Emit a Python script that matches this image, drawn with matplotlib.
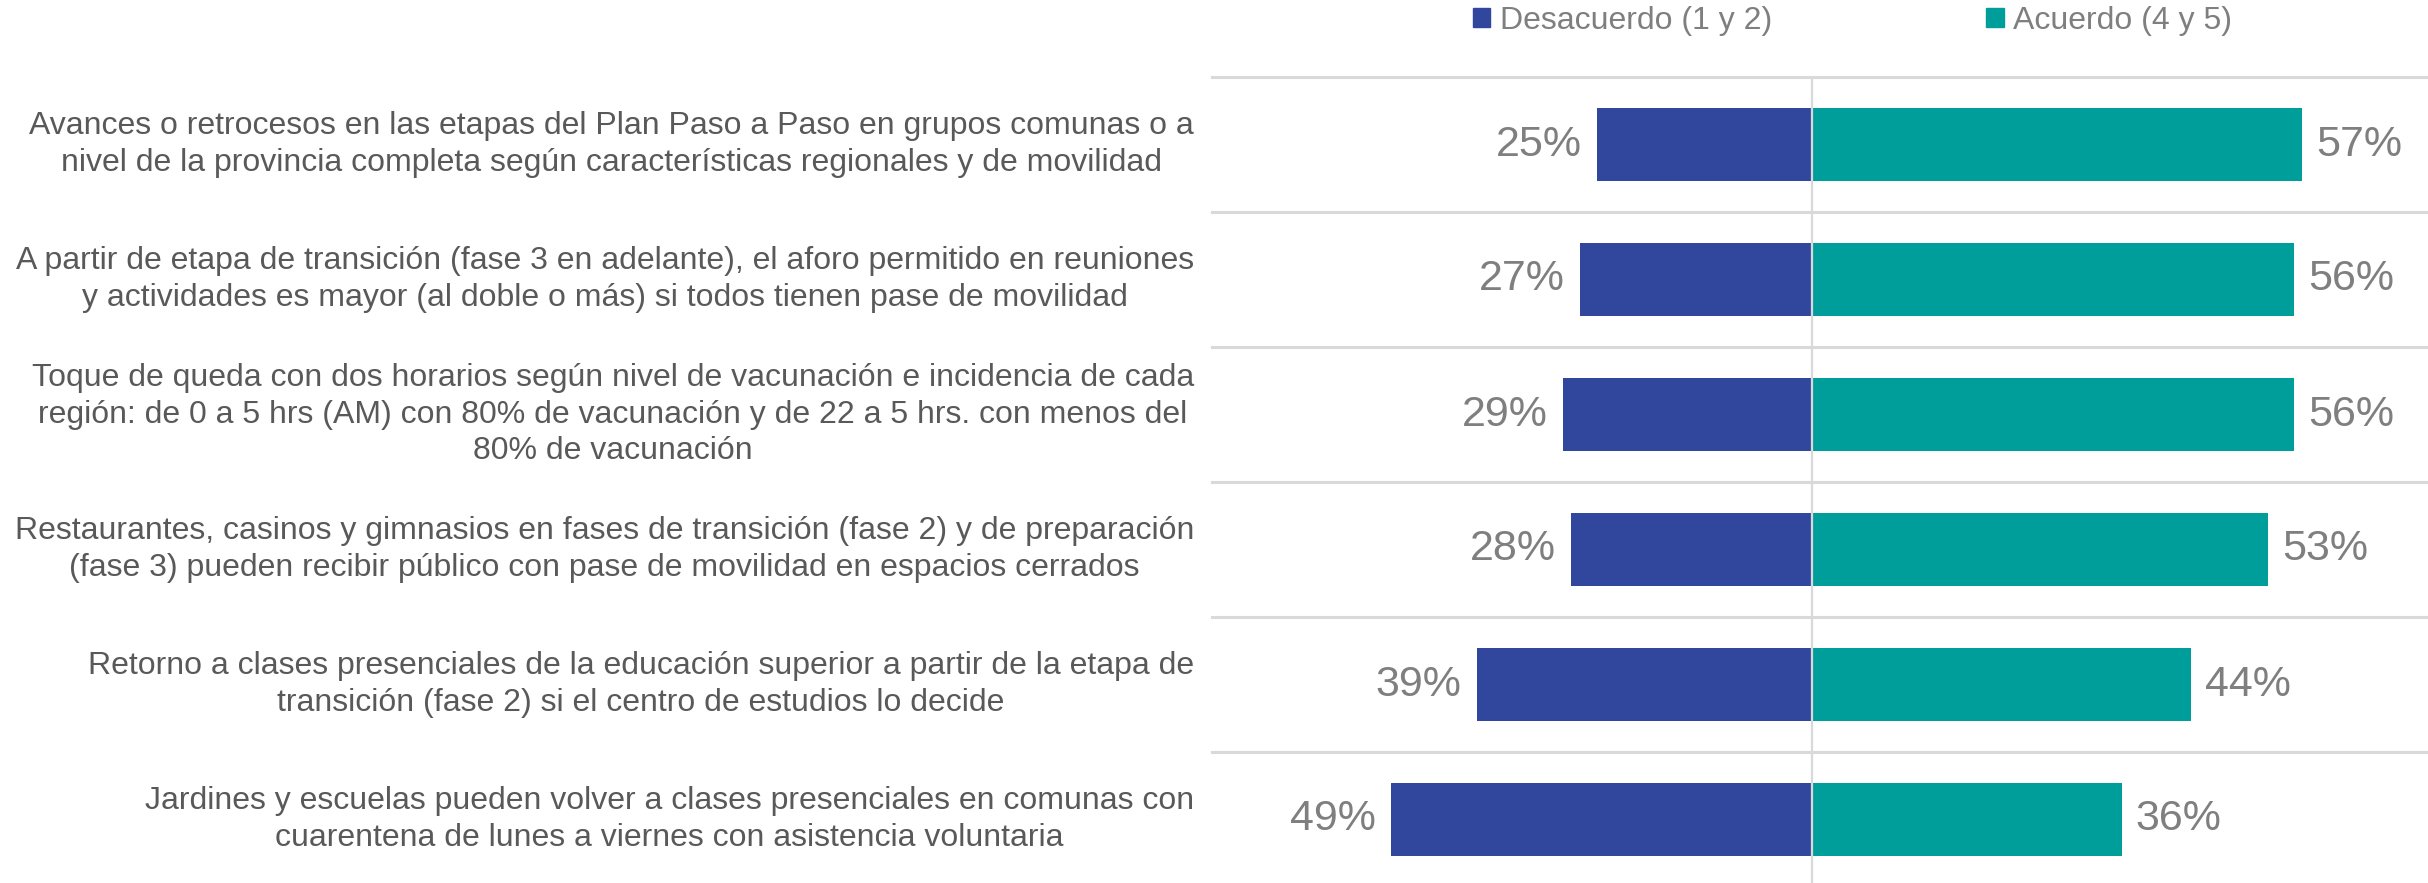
import numpy as np
import matplotlib
matplotlib.use("Agg")
import matplotlib.pyplot as plt
import matplotlib.transforms as mtransforms
from matplotlib.patches import Patch

plt.rcParams['font.family'] = ['Liberation Sans', 'DejaVu Sans']

# data
categorias = [
    "Avances o retrocesos en las etapas del Plan Paso a Paso en grupos comunas o a\n"
    "nivel de la provincia completa según características regionales y de movilidad",
    "A partir de etapa de transición (fase 3 en adelante), el aforo permitido en reuniones\n"
    "y actividades es mayor (al doble o más) si todos tienen pase de movilidad",
    "Toque de queda con dos horarios según nivel de vacunación e incidencia de cada\n"
    "región: de 0 a 5 hrs (AM) con 80% de vacunación y de 22 a 5 hrs. con menos del\n"
    "80% de vacunación",
    "Restaurantes, casinos y gimnasios en fases de transición (fase 2) y de preparación\n"
    "(fase 3) pueden recibir público con pase de movilidad en espacios cerrados",
    "Retorno a clases presenciales de la educación superior a partir de la etapa de\n"
    "transición (fase 2) si el centro de estudios lo decide",
    "Jardines y escuelas pueden volver a clases presenciales en comunas con\n"
    "cuarentena de lunes a viernes con asistencia voluntaria",
]
desacuerdo = [25, 27, 29, 28, 39, 49]
acuerdo = [57, 56, 56, 53, 44, 36]
series_labels = ["Desacuerdo (1 y 2)", "Acuerdo (4 y 5)"]

BLUE = '#31479d'
TEAL = '#009e9a'
GRID = '#d9d9d9'
LABEL_GREY = '#595959'
VALUE_GREY = '#7f7f7f'

W, H = 2428, 883
fig = plt.figure(figsize=(W / 100, H / 100), dpi=100)
ax = fig.add_axes([1212 / W, -4 / H, 1216 / W, 810 / H])

y = np.arange(len(categorias))
neg = ax.barh(y, [-v for v in desacuerdo], height=0.535, color=BLUE, zorder=2)
pos = ax.barh(y, acuerdo, height=0.535, color=TEAL, zorder=2)

ax.bar_label(neg, labels=[f"{v}%" for v in desacuerdo], padding=11,
             fontsize=31, color=VALUE_GREY)
ax.bar_label(pos, labels=[f"{v}%" for v in acuerdo], padding=10,
             fontsize=31, color=VALUE_GREY)

ax.set_xlim(-69.8, 71.6)
ax.set_ylim(len(categorias) - 0.5, -0.5)

# row separators and centre line
for b in np.arange(-0.5, len(categorias) - 1, 1.0):
    ax.axhline(b, color=GRID, linewidth=2.2, zorder=1, clip_on=False)
ax.axvline(0, color=GRID, linewidth=1.6, zorder=3)

for s in ax.spines.values():
    s.set_visible(False)
ax.set_xticks([])
ax.set_yticks([])

# category labels, right edge at fixed figure x
trans = mtransforms.blended_transform_factory(fig.transFigure, ax.transData)
for yi, txt in zip(y, categorias):
    ax.text(1194 / W, yi, txt, transform=trans, ha='right', va='center',
            multialignment='center', fontsize=23, color=LABEL_GREY,
            linespacing=1.27, clip_on=False)

handles = [Patch(color=BLUE), Patch(color=TEAL)]
fig.legend(handles, series_labels, loc='center', bbox_to_anchor=(0.763, 1 - 21 / H),
           ncol=2, frameon=False, fontsize=23, labelcolor=VALUE_GREY,
           handlelength=0.55, handleheight=0.55, handletextpad=0.3,
           columnspacing=6.7)

fig.savefig('out.png', dpi=100)
